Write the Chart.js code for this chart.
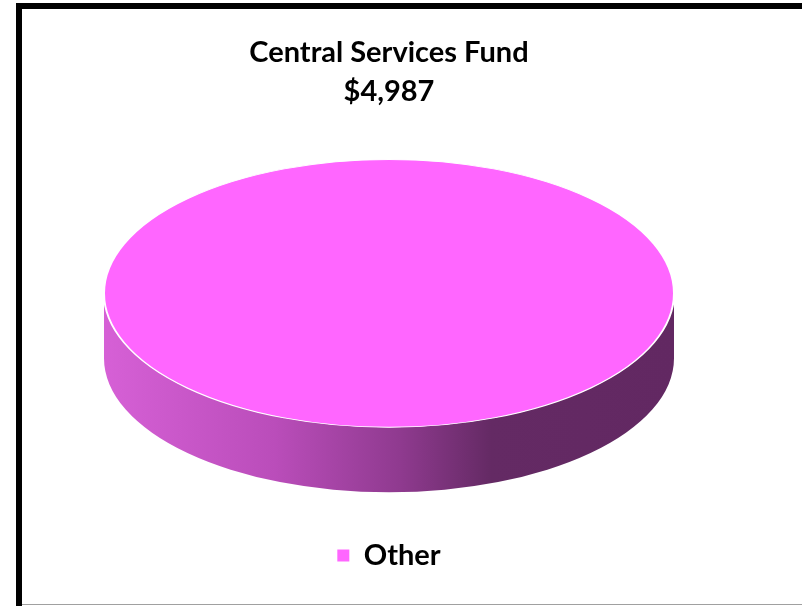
<!DOCTYPE html>
<html>
<head>
<meta charset="utf-8">
<title>Central Services Fund</title>
<script src="https://cdn.jsdelivr.net/npm/chart.js@4.4.0/dist/chart.umd.min.js"></script>
<style>
  html, body { margin: 0; padding: 0; background: #fff; width: 802px; height: 606px; overflow: hidden; }
  #frame { position: absolute; left: 16px; top: 3px; width: 820px; height: 640px; border-left: 6px solid #000; border-top: 6px solid #000; }
  #baseLine { position: absolute; left: 22px; top: 604px; width: 800px; height: 1px; background: #a0a0a0; }
  #wrap { position: absolute; left: 22px; top: 9px; width: 740px; height: 595px; }
</style>
</head>
<body>
<div id="frame"></div>
<div id="baseLine"></div>
<div id="wrap"><canvas id="fundChart"></canvas></div>
<script>
// Datos del gráfico
const categories = ['Other'];
const fundValues = [4987];
const sliceColors = ['#FF66FF'];

const total = fundValues.reduce((a, b) => a + b, 0);
const totalLabel = '$' + total.toLocaleString('en-US');

// pastel 3D: lateral con degradado + tapa aplastada
const pie3d = {
  id: 'pie3d',
  beforeDatasetDraw(chart, args, opts) {
    const ctx = chart.ctx;
    const arcs = args.meta.data;
    if (!arcs.length) return;
    const cx = arcs[0].x, cy = arcs[0].y;
    const r = arcs[0].outerRadius;
    const ry = r * opts.tilt;
    const top = cy - opts.depth / 2;

    ctx.save();
    const grad = ctx.createLinearGradient(cx - r, 0, cx + r, 0);
    grad.addColorStop(0, '#D660D6');
    grad.addColorStop(0.3, '#BA4DBA');
    grad.addColorStop(0.52, '#8F3A8F');
    grad.addColorStop(0.68, '#642A64');
    grad.addColorStop(1, '#622862');
    ctx.fillStyle = grad;
    arcs.forEach(arc => {
      [-2 * Math.PI, 0, 2 * Math.PI].forEach(shift => {
        const a = Math.max(arc.startAngle, shift);
        const b = Math.min(arc.endAngle, shift + Math.PI);
        if (b <= a) return;
        ctx.beginPath();
        ctx.ellipse(cx, top, r, ry, 0, a, b, false);
        ctx.ellipse(cx, top + opts.depth, r, ry, 0, b, a, true);
        ctx.closePath();
        ctx.fill();
      });
    });
    ctx.restore();

    ctx.save();
    ctx.translate(cx, top);
    ctx.scale(1, opts.tilt);
    ctx.translate(-cx, -cy);
  },
  afterDatasetDraw(chart, args) {
    const ctx = chart.ctx;
    const arcs = args.meta.data;
    if (arcs.length) {
      // borde blanco de la tapa (sin la línea radial de un solo sector)
      ctx.beginPath();
      ctx.arc(arcs[0].x, arcs[0].y, arcs[0].outerRadius, 0, Math.PI * 2);
      ctx.strokeStyle = '#ffffff';
      ctx.lineWidth = 2;
      ctx.stroke();
    }
    ctx.restore();
  }
};

const ctx = document.getElementById('fundChart').getContext('2d');
const fundChart = new Chart(ctx, {
  type: 'pie',
  data: {
    labels: categories,
    datasets: [{
      data: fundValues,
      backgroundColor: sliceColors,
      borderWidth: 0,
      radius: 285,
      clip: false
    }]
  },
  options: {
    responsive: true,
    maintainAspectRatio: false,
    animation: false,
    layout: { padding: { right: 6, bottom: 24 } },
    plugins: {
      pie3d: { tilt: 0.47, depth: 65 },
      title: {
        display: true,
        text: ['Central Services Fund', totalLabel],
        color: '#000',
        font: { family: 'Lato', weight: 'bold', size: 29, lineHeight: 1.34 },
        padding: { top: 24, bottom: 10 }
      },
      legend: {
        position: 'bottom',
        labels: {
          color: '#000',
          boxWidth: 12,
          boxHeight: 12,
          font: { family: 'Lato', weight: 'bold', size: 29 },
          generateLabels(chart) {
            const items = Chart.overrides.pie.plugins.legend.labels.generateLabels(chart);
            items.forEach(it => { it.lineWidth = 0; });
            return items;
          }
        }
      },
      tooltip: { enabled: false }
    }
  },
  plugins: [pie3d]
});
</script>
</body>
</html>
